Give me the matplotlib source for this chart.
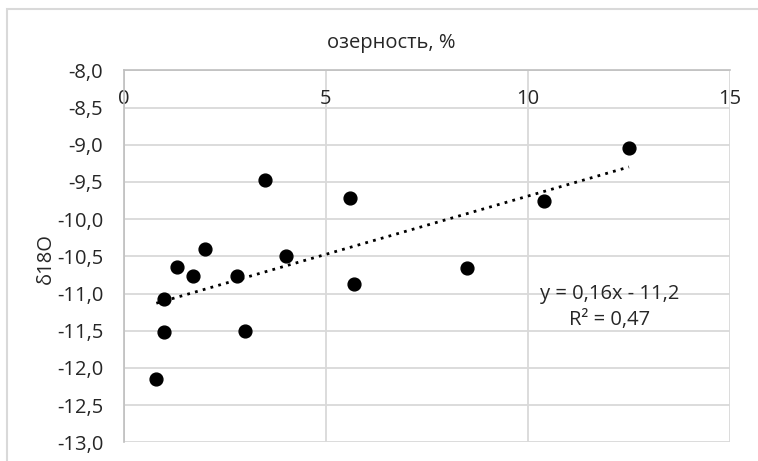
import numpy as np
import matplotlib.pyplot as plt
from matplotlib.patches import Rectangle

# озерность, % и δ18O
ozernost = [0.8, 1.0, 1.0, 1.3, 1.7, 2.0, 2.8, 3.0, 3.5, 4.0, 5.6, 5.7, 8.5, 10.4, 12.5]
d18o = [-12.15, -11.52, -11.07, -10.65, -10.76, -10.40, -10.76, -11.51, -9.48, -10.50,
        -9.72, -10.87, -10.66, -9.75, -9.05]

x_ticks = [0, 5, 10, 15]
y_ticks = [-8.0, -8.5, -9.0, -9.5, -10.0, -10.5, -11.0, -11.5, -12.0, -12.5, -13.0]
y_ticklabels = ['-8,0', '-8,5', '-9,0', '-9,5', '-10,0', '-10,5', '-11,0', '-11,5', '-12,0', '-12,5', '-13,0']
eq_text = 'y = 0,16x - 11,2\nR² = 0,47'

plt.rcParams['font.family'] = ['Open Sans', 'DejaVu Sans']
txt_col = '#262626'
fs = 14.5

fig = plt.figure(figsize=(7.58, 4.61), dpi=100)
ax = fig.add_axes([124/758, 1 - 442.3/461, 606/758, 372/461])

# линия тренда
k, b = np.polyfit(ozernost, d18o, 1)
xt = np.array([min(ozernost), max(ozernost)])
ax.plot(xt, k*xt + b, color='black', lw=2.0, linestyle=(0, (1, 1.9)), zorder=3)

ax.scatter(ozernost, d18o, s=85, color='black', zorder=4)

ax.set_xlim(0, 15)
ax.set_ylim(-13, -8)
ax.set_xticks(x_ticks)
ax.set_xticklabels([str(t) for t in x_ticks])
ax.set_yticks(y_ticks)
ax.set_yticklabels(y_ticklabels)

ax.grid(True, color='#d9d9d9', lw=1.3)
ax.set_axisbelow(True)
for s in ['right', 'bottom']:
    ax.spines[s].set_visible(False)
for s in ['left', 'top']:
    ax.spines[s].set_color('#bfbfbf')
    ax.spines[s].set_linewidth(1.2)

ax.tick_params(axis='x', top=True, labeltop=True, bottom=False, labelbottom=False,
               length=0, pad=-28, labelsize=fs, labelcolor=txt_col)
ax.tick_params(axis='y', length=0, pad=15, labelsize=fs, labelcolor=txt_col)

ax.set_ylabel('δ18O', fontsize=fs, color=txt_col)
ax.yaxis.set_label_coords(-0.112, 0.495)

fig.text(391/758, 1 - 43/461, 'озерность, %', ha='center', va='center',
         fontsize=fs, color=txt_col)

ax.text(12.03, -11.18, eq_text, ha='center', va='center', multialignment='center',
        fontsize=fs, color=txt_col, linespacing=1.35)

# рамка области диаграммы
fig.patches.append(Rectangle((7/758, -0.1), 1.0, 1 - 9/461 + 0.1, transform=fig.transFigure,
                             fill=False, edgecolor='#d9d9d9', lw=1.5))

fig.savefig('out.png', dpi=100)
